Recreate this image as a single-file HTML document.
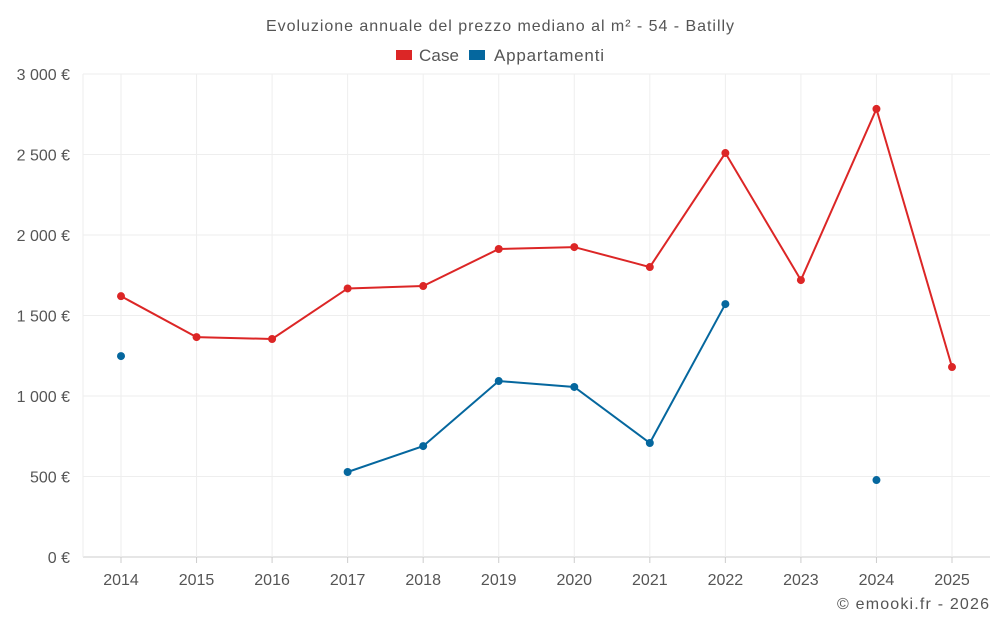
<!DOCTYPE html>
<html><head><meta charset="utf-8"><style>
body{margin:0;background:#fff;font-family:"Liberation Sans",sans-serif}
svg text{font-family:"Liberation Sans",sans-serif;fill:#555}
</style></head><body>
<svg id="c" width="1000" height="625">
<text x="500" y="31" text-anchor="middle" font-size="16" textLength="468">Evoluzione annuale del prezzo mediano al m² - 54 - Batilly</text>
<g>
<rect x="396" y="50" width="16" height="10" fill="#dc2626"/>
<text x="419" y="61" font-size="17" textLength="40">Case</text>
<rect x="469" y="50" width="16" height="10" fill="#05679e"/>
<text x="494" y="61" font-size="17" textLength="110">Appartamenti</text>
</g>
<g id="grid"></g><g id="series"></g>
<text x="989" y="609" text-anchor="end" font-size="16" textLength="152">© emooki.fr - 2026</text>
</svg>
<script>
const years=[2014,2015,2016,2017,2018,2019,2020,2021,2022,2023,2024,2025];
const caseVals=[1620,1366,1354,1668,1683,1913,1925,1801,2509,1720,2783,1180];
const aptVals=[1248,null,null,528,689,1093,1056,708,1571,null,478,null];
const yTicks=[0,500,1000,1500,2000,2500,3000];
const yLabels=["0 €","500 €","1 000 €","1 500 €","2 000 €","2 500 €","3 000 €"];
const NS="http://www.w3.org/2000/svg";
const L=83,R=990,T=74,B=557;
const x=i=>121+i*(952-121)/(years.length-1);
const y=v=>B-(v/3000)*(B-T);
function mk(p,tag,a){const e=document.createElementNS(NS,tag);for(const k in a)e.setAttribute(k,a[k]);p.appendChild(e);return e;}
const g=document.getElementById('grid'),s=document.getElementById('series');
yTicks.forEach((t,i)=>{
 const l=mk(g,'line',{x1:L,x2:R,y1:y(t),y2:y(t),stroke:i==0?'#ccc':'#eee'});
 
 
 const tx=mk(g,'text',{x:70,y:y(t)+6,'text-anchor':'end','font-size':16});tx.textContent=yLabels[i];
 
 
});
years.forEach((yr,i)=>{
 const l=mk(g,'line',{x1:x(i),x2:x(i),y1:T,y2:B,stroke:'#eee'});
 
 
 const k=mk(g,'line',{x1:x(i),x2:x(i),y1:B,y2:B+6,stroke:'#ccc'});
 
 
 const tx=mk(g,'text',{x:x(i),y:585,'text-anchor':'middle','font-size':16});tx.textContent=yr;
 
 
});
const ax=mk(g,'line',{x1:L,x2:L,y1:T,y2:B,stroke:'#eee'});


function draw(vals,col,name){
 let d='',pen=false;
 vals.forEach((v,i)=>{if(v==null){pen=false;return;}d+=(pen?'L':'M')+x(i)+' '+y(v)+' ';pen=true;});
 const p=mk(s,'path',{d:d,fill:'none',stroke:col,'stroke-width':2});
 
 
 vals.forEach((v,i)=>{if(v==null)return;
  const c=mk(s,'circle',{cx:x(i),cy:y(v),r:4,fill:col});
  
  
 });
}
draw(caseVals,'#dc2626','case');
draw(aptVals,'#05679e','appartamenti');
</script>
</body></html>
